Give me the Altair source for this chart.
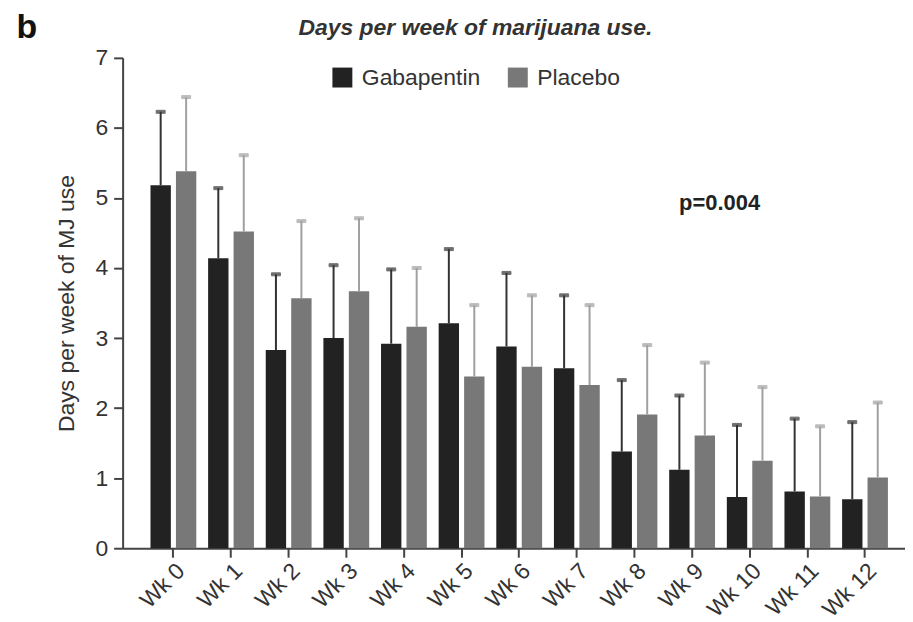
import altair as alt
import pandas as pd

weeks = ["Wk 0", "Wk 1", "Wk 2", "Wk 3", "Wk 4", "Wk 5", "Wk 6",
         "Wk 7", "Wk 8", "Wk 9", "Wk 10", "Wk 11", "Wk 12"]
groups = ["Gabapentin", "Placebo"]
gaba_mean = [5.18, 4.14, 2.83, 3.00, 2.92, 3.21, 2.88, 2.57, 1.38, 1.12, 0.73, 0.81, 0.70]
gaba_sd = [1.05, 1.00, 1.08, 1.04, 1.06, 1.06, 1.05, 1.04, 1.02, 1.06, 1.03, 1.04, 1.10]
plac_mean = [5.38, 4.52, 3.57, 3.67, 3.16, 2.45, 2.59, 2.33, 1.91, 1.61, 1.25, 0.74, 1.01]
plac_sd = [1.06, 1.09, 1.10, 1.04, 0.84, 1.02, 1.02, 1.14, 0.99, 1.04, 1.05, 1.00, 1.07]

rows = []
for w, m, s in zip(weeks, gaba_mean, gaba_sd):
    rows.append({"week": w, "group": groups[0], "mean": m, "upper": m + s})
for w, m, s in zip(weeks, plac_mean, plac_sd):
    rows.append({"week": w, "group": groups[1], "mean": m, "upper": m + s})
df = pd.DataFrame(rows)

FONT = "Liberation Sans"

x_enc = alt.X("week:N", sort=weeks,
              scale=alt.Scale(paddingInner=0.205, paddingOuter=0.39, align=0.62),
              axis=alt.Axis(title=None, labelAngle=-45, labelFontSize=23,
                            labelAlign="right", labelBaseline="top",
                            labelPadding=2, tickSize=9, labelColor="#333"))
xoff = alt.XOffset("group:N", sort=groups,
                   scale=alt.Scale(paddingInner=0.2, paddingOuter=0))
y_scale = alt.Scale(domain=[0, 7], nice=False, zero=True)

base = alt.Chart(df)

bars = base.mark_bar().encode(
    x=x_enc,
    xOffset=xoff,
    y=alt.Y("mean:Q", scale=y_scale,
            axis=alt.Axis(title="Days per week of MJ use", values=[0, 1, 2, 3, 4, 5, 6, 7],
                          format="d", tickSize=9, labelFontSize=23, titleFontSize=23,
                          titleFontWeight="normal", titlePadding=16,
                          labelPadding=6, grid=False, labelColor="#333",
                          titleColor="#333")),
    color=alt.Color("group:N", sort=groups,
                    scale=alt.Scale(domain=groups, range=["#222222", "#787878"]),
                    legend=alt.Legend(title=None, orient="none", legendX=209, legendY=8,
                                      direction="horizontal", symbolType="square",
                                      symbolSize=400, symbolStrokeWidth=0,
                                      labelFontSize=23, labelOffset=8,
                                      columnPadding=26, labelColor="#333",
                                      labelFont=FONT)),
)

err_scale = alt.Scale(domain=groups, range=["#333333", "#a0a0a0"])

rules = base.mark_rule(strokeWidth=2).encode(
    x=x_enc,
    xOffset=xoff,
    y=alt.Y("mean:Q", scale=y_scale),
    y2="upper:Q",
    stroke=alt.Stroke("group:N", scale=err_scale, legend=None),
)

caps = base.mark_tick(size=9, thickness=3).encode(
    x=x_enc,
    xOffset=xoff,
    y=alt.Y("upper:Q", scale=y_scale),
    stroke=alt.Stroke("group:N", scale=err_scale, legend=None),
    fill=alt.Fill("group:N", scale=err_scale, legend=None),
)

ptext = alt.Chart(pd.DataFrame({"t": ["p=0.004"]})).mark_text(
    font=FONT, fontSize=22, fontWeight="bold", color="#222"
).encode(text="t:N", x=alt.value(599), y=alt.value(146))

title_text = alt.Chart(pd.DataFrame({"t": ["Days per week of marijuana use."]})).mark_text(
    font=FONT, fontSize=23, fontWeight="bold", fontStyle="italic", color="#333"
).encode(text="t:N", x=alt.value(354), y=alt.value(-30))

blabel = alt.Chart(pd.DataFrame({"t": ["b"]})).mark_text(
    font=FONT, fontSize=34, fontWeight="bold", color="#111"
).encode(text="t:N", x=alt.value(-96), y=alt.value(-30))

chart = alt.layer(bars, rules, caps, ptext, title_text, blabel).properties(
    width=785, height=492,
    autosize=alt.AutoSizeParams(type="none"),
    padding={"left": 115, "top": 49, "right": 0, "bottom": 73},
).configure_view(stroke=None).configure_axis(
    domainColor="#444", domainWidth=2, tickColor="#444", tickWidth=2,
    labelFont=FONT, titleFont=FONT,
).configure_legend(labelFont=FONT)

chart.save("out.html", embed_options={"renderer": "svg", "actions": False})
